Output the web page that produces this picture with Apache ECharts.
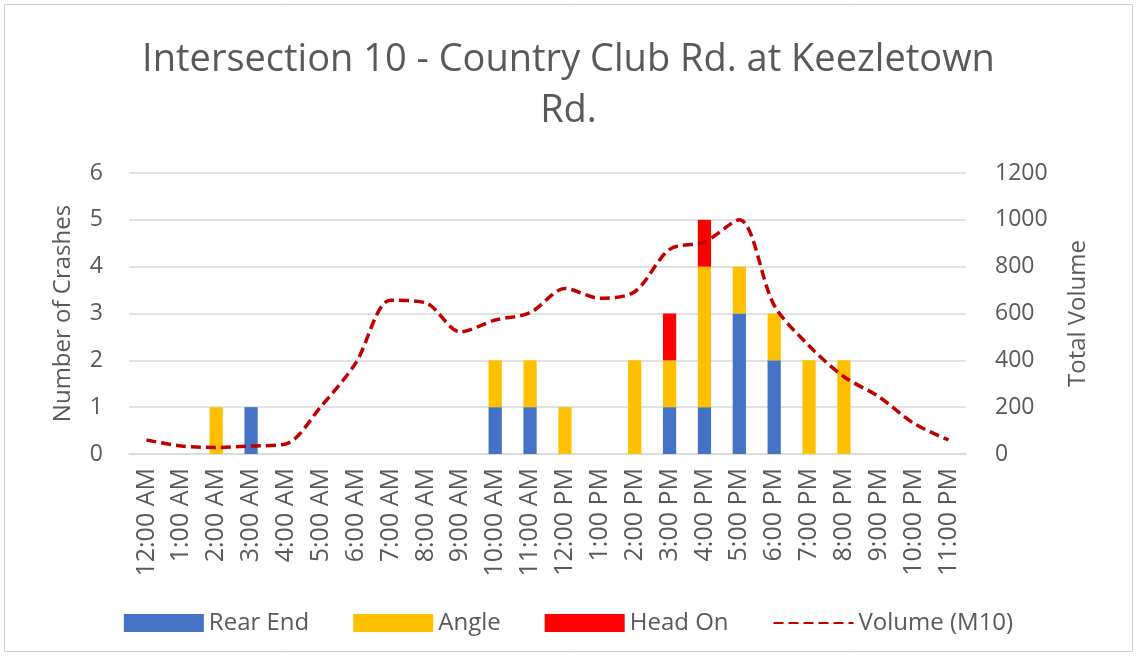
<!DOCTYPE html>
<html>
<head>
<meta charset="utf-8">
<script src="https://cdn.jsdelivr.net/npm/echarts@6/dist/echarts.min.js"></script>
<style>
  html, body { margin: 0; padding: 0; background: #ffffff; }
  #chart { width: 1137px; height: 657px; }
</style>
</head>
<body>
<div id="chart"></div>
<script>
// Hourly crash counts by type, with hourly traffic volume on the right axis
const hours = ['12:00 AM', '1:00 AM', '2:00 AM', '3:00 AM', '4:00 AM', '5:00 AM', '6:00 AM', '7:00 AM',
  '8:00 AM', '9:00 AM', '10:00 AM', '11:00 AM', '12:00 PM', '1:00 PM', '2:00 PM', '3:00 PM',
  '4:00 PM', '5:00 PM', '6:00 PM', '7:00 PM', '8:00 PM', '9:00 PM', '10:00 PM', '11:00 PM'];
const rearEnd = [0, 0, 0, 1, 0, 0, 0, 0, 0, 0, 1, 1, 0, 0, 0, 1, 1, 3, 2, 0, 0, 0, 0, 0];
const angle   = [0, 0, 1, 0, 0, 0, 0, 0, 0, 0, 1, 1, 1, 0, 2, 1, 3, 1, 1, 2, 2, 0, 0, 0];
const headOn  = [0, 0, 0, 0, 0, 0, 0, 0, 0, 0, 0, 0, 0, 0, 0, 1, 1, 0, 0, 0, 0, 0, 0, 0];
const volume  = [60, 34, 28, 34, 43, 202, 388, 657, 646, 522, 572, 603, 707, 665, 693, 874,
  906, 1000, 635, 462, 330, 245, 131, 60];
const crashTicks = [0, 1, 2, 3, 4, 5, 6];
const volumeTicks = [0, 200, 400, 600, 800, 1000, 1200];

const textColor = '#595959';
const gridColor = '#D9D9D9';
const font = 'Open Sans';

const chart = echarts.init(document.getElementById('chart'), null, { renderer: 'canvas' });

const barSeries = (name, data, color) => ({
  name, type: 'bar', stack: 'crashes', data,
  barWidth: '38%',
  itemStyle: { color },
  emphasis: { disabled: true }
});

chart.setOption({
  animation: false,
  backgroundColor: '#ffffff',
  textStyle: { fontFamily: font },
  graphic: [{
    type: 'rect',
    shape: { x: 4.5, y: 4.5, width: 1128, height: 647 },
    style: { fill: 'none', stroke: '#D0D0D0', lineWidth: 1 },
    silent: true
  }],
  title: {
    text: 'Intersection 10 - Country Club Rd. at Keezletown\nRd.',
    left: 'center',
    top: 30,
    textStyle: { fontFamily: font, fontSize: 38, fontWeight: 'normal', color: textColor, lineHeight: 51 }
  },
  legend: {
    top: 606,
    left: 'center',
    itemWidth: 80,
    itemHeight: 18,
    itemGap: 44,
    textStyle: { fontFamily: font, fontSize: 24, color: textColor },
    data: [
      { name: 'Rear End', icon: 'rect' },
      { name: 'Angle', icon: 'rect' },
      { name: 'Head On', icon: 'rect' },
      { name: 'Volume (M10)', itemStyle: { color: 'rgba(0,0,0,0)', borderWidth: 0 } }
    ]
  },
  grid: { left: 129, right: 171, top: 173, bottom: 203 },
  xAxis: {
    type: 'category',
    data: hours,
    axisLine: { lineStyle: { color: gridColor, width: 1.5 } },
    axisTick: { show: false },
    axisLabel: { rotate: 90, fontFamily: font, fontSize: 25, color: textColor, margin: 14, interval: 0 }
  },
  yAxis: [{
    type: 'value',
    min: crashTicks[0], max: crashTicks[crashTicks.length - 1], interval: 1,
    name: 'Number of Crashes',
    nameLocation: 'middle',
    nameGap: 54,
    nameTextStyle: { fontFamily: font, fontSize: 24, color: textColor },
    axisLine: { show: false },
    axisTick: { show: false },
    axisLabel: { fontFamily: font, fontSize: 23, color: textColor, margin: 26 },
    splitLine: { lineStyle: { color: gridColor, width: 1.5 } }
  }, {
    type: 'value',
    min: volumeTicks[0], max: volumeTicks[volumeTicks.length - 1], interval: 200,
    name: 'Total Volume',
    nameLocation: 'middle',
    nameGap: 100,
    nameRotate: 90,
    nameTextStyle: { fontFamily: font, fontSize: 24, color: textColor },
    axisLine: { show: false },
    axisTick: { show: false },
    axisLabel: { fontFamily: font, fontSize: 23, color: textColor, margin: 29, formatter: v => String(v) },
    splitLine: { show: false }
  }],
  series: [
    barSeries('Rear End', rearEnd, '#4472C4'),
    barSeries('Angle', angle, '#FFC000'),
    barSeries('Head On', headOn, '#FF0000'),
    {
      name: 'Volume (M10)',
      type: 'line',
      yAxisIndex: 1,
      data: volume,
      smooth: 0.3,
      symbol: 'none',
      lineStyle: { color: '#C00000', width: 3.5, type: [10, 5] },
      itemStyle: { color: '#C00000' },
      emphasis: { disabled: true },
      z: 5
    }
  ]
});
</script>
</body>
</html>
